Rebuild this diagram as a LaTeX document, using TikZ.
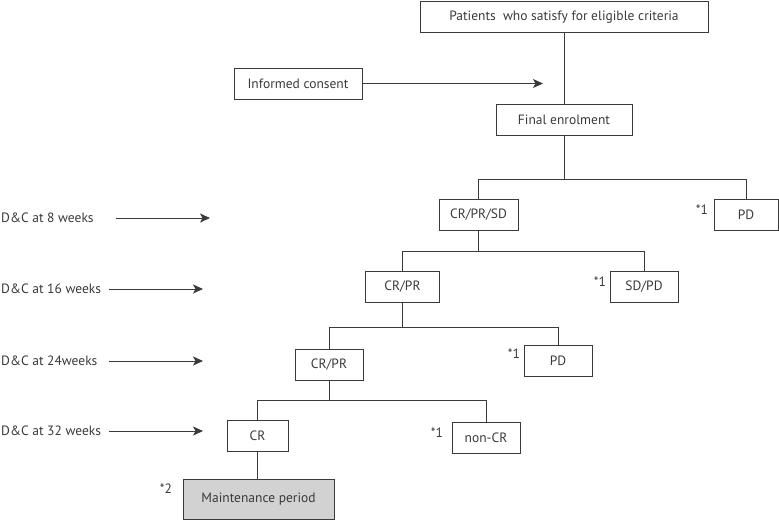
\documentclass[tikz,border=0pt]{standalone}
\usepackage{fontspec}
\setmainfont{PT Sans}
\usepackage{xcolor}
\usetikzlibrary{arrows.meta,positioning}

\definecolor{inkgray}{HTML}{3A3A3A}
\definecolor{mainfill}{HTML}{D2D2D2}

\tikzset{
  box/.style={draw=inkgray, line width=0.9pt, text=inkgray, minimum height=31pt,
    inner sep=2pt, font=\fontsize{13.5}{15}\selectfont},
  lbl/.style={text=inkgray, inner sep=0pt, font=\fontsize{13.5}{15}\selectfont},
  link/.style={draw=inkgray, line width=0.9pt},
  arr/.style={draw=inkgray, line width=0.9pt, -{Stealth[length=10pt,width=9pt,inset=2.5pt]}}
}

\begin{document}
\begin{tikzpicture}[x=1pt,y=-1pt]
  \useasboundingbox (0,0) rectangle (779,520);
  % boxes of the flow
  \node[box, minimum width=288pt] (elig) at (564,17) {Patients\ \ who satisfy for eligible criteria};
  \node[box, minimum width=128pt] (consent) at (298,83.5) {Informed consent};
  \node[box, minimum width=136pt] (enrol) at (564,119.5) {Final enrolment};
  \node[box, minimum width=79pt] (wk8ok) at (478.5,214.5) {CR/PR/SD};
  \node[box, minimum width=64pt] (wk8pd) at (746,214.5) {PD};
  \node[box, minimum width=74pt] (wk16ok) at (402.5,287) {CR/PR};
  \node[box, minimum width=68pt] (wk16pd) at (644,287) {SD/PD};
  \node[box, minimum width=68pt] (wk24ok) at (329,364.5) {CR/PR};
  \node[box, minimum width=68pt] (wk24pd) at (558,360.5) {PD};
  \node[box, minimum width=61pt] (wk32cr) at (257.5,435.5) {CR};
  \node[box, minimum width=68pt] (wk32ncr) at (486,437.5) {non-CR};
  \node[box, minimum width=151pt, minimum height=40pt, fill=mainfill] (maint) at (258.5,499) {Maintenance period};
  % notes
  \node[lbl] (n1) at (702,210) {*1};
  \node[lbl] (n2) at (600,282) {*1};
  \node[lbl] (n3) at (514,354) {*1};
  \node[lbl] (n4) at (437,433) {*1};
  \node[lbl] (n5) at (166,489) {*2};
  % time points on the left
  \node[lbl, anchor=west] (t8) at (1,218) {D\&C at 8 weeks};
  \node[lbl, anchor=west] (t16) at (1,289) {D\&C at 16 weeks};
  \node[lbl, anchor=west] (t24) at (1,361) {D\&C at 24weeks};
  \node[lbl, anchor=west] (t32) at (1,431) {D\&C at 32 weeks};
  \coordinate (a8s) at (116,218);  \coordinate (a8e) at (210,218);
  \coordinate (a16s) at (109,289); \coordinate (a16e) at (203,289);
  \coordinate (a24s) at (109,361); \coordinate (a24e) at (203,361);
  \coordinate (a32s) at (109,431); \coordinate (a32e) at (203,431);
  \draw[arr] (a8s) -- (a8e);
  \draw[arr] (a16s) -- (a16e);
  \draw[arr] (a24s) -- (a24e);
  \draw[arr] (a32s) -- (a32e);
  % connectors
  \coordinate (cin) at (543,83.5);
  \draw[arr] (consent) -- (cin);
  \draw[link] (elig) -- (enrol);
  \draw[link] (enrol.south) -- ++(0,44) coordinate (j8);
  \draw[link] (wk8ok.north) |- (j8) -| (wk8pd.north);
  \draw[link] (wk8ok.south) -- ++(0,21) coordinate (j16);
  \draw[link] (wk16ok.north) |- (j16) -| (wk16pd.north);
  \draw[link] (wk16ok.south) -- ++(0,24) coordinate (j24);
  \draw[link] (wk24ok.north) |- (j24) -| (wk24pd.north);
  \draw[link] (wk24ok.south) -- ++(0,20) coordinate (j32);
  \draw[link] (wk32cr.north) |- (j32) -| (wk32ncr.north);
  \draw[link] (wk32cr.south) -- (wk32cr.south |- maint.north);
\end{tikzpicture}
\end{document}
